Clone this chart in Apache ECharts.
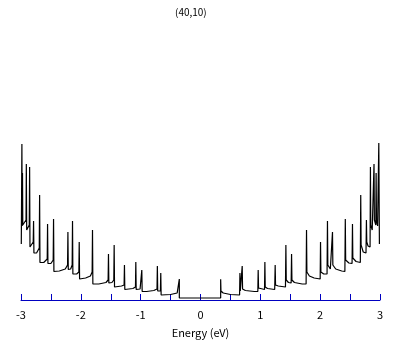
<!DOCTYPE html>
<html>
<head>
<meta charset="utf-8">
<script src="https://cdn.jsdelivr.net/npm/echarts@6/dist/echarts.min.js"></script>
<style>
  html, body { margin: 0; padding: 0; background: #fff; }
  #chart { width: 409px; height: 345px; }
</style>
</head>
<body>
<div id="chart"></div>
<script>
// DOS of the (40,10) tube: [energy (eV), dos (arb.)]
var negBranch = [
  [-2.995, 56], [-2.985, 156], [-2.98, 74], [-2.975, 127], [-2.97, 75], [-2.94, 76], [-2.916, 80],
  [-2.911, 136], [-2.905, 70], [-2.88, 70], [-2.862, 75],
  [-2.856, 133], [-2.85, 53], [-2.82, 53], [-2.796, 58],
  [-2.79, 79], [-2.784, 47], [-2.74, 47], [-2.695, 52],
  [-2.689, 105], [-2.683, 37.5], [-2.62, 37.5], [-2.562, 41],
  [-2.556, 76], [-2.55, 36.5], [-2.5, 36.5], [-2.462, 40],
  [-2.456, 81], [-2.45, 28.5], [-2.36, 29], [-2.26, 31], [-2.222, 35],
  [-2.216, 68], [-2.21, 30.5], [-2.17, 31], [-2.145, 35],
  [-2.139, 79], [-2.133, 26], [-2.07, 26], [-2.033, 28],
  [-2.027, 58], [-2.021, 21], [-1.92, 22], [-1.84, 24], [-1.811, 28],
  [-1.805, 70], [-1.799, 16], [-1.7, 16], [-1.58, 17.5], [-1.544, 20],
  [-1.538, 46], [-1.532, 17], [-1.48, 17.5], [-1.449, 20],
  [-1.443, 55], [-1.437, 13], [-1.32, 14], [-1.277, 15],
  [-1.271, 35], [-1.265, 10.5], [-1.13, 11.5], [-1.087, 13],
  [-1.081, 38], [-1.075, 10.5], [-1.01, 11], [-0.987, 12],
  [-0.981, 30], [-0.975, 8.5], [-0.9, 8.5], [-0.78, 9.5], [-0.727, 11],
  [-0.721, 34], [-0.715, 9], [-0.67, 9],
  [-0.664, 27], [-0.658, 5], [-0.5, 5.5], [-0.39, 7], [-0.36, 9],
  [-0.354, 21], [-0.354, 2]
]
var gapFloor = [[-0.354, 2], [0.337, 2]]
var posBranch = [
  [0.337, 20.7], [0.342, 9], [0.38, 7], [0.5, 5.5], [0.653, 5],
  [0.659, 27], [0.665, 9], [0.69, 9],
  [0.697, 34], [0.703, 11], [0.75, 9.5], [0.9, 8.5], [0.958, 8.5],
  [0.964, 30], [0.97, 12], [1.0, 11], [1.07, 10.5],
  [1.076, 38], [1.082, 13], [1.12, 11.5], [1.24, 10.5],
  [1.248, 35], [1.254, 15], [1.3, 14], [1.42, 13],
  [1.427, 55], [1.433, 20], [1.47, 17.5], [1.515, 17],
  [1.522, 46], [1.528, 20], [1.57, 17.5], [1.7, 16], [1.765, 16],
  [1.772, 70], [1.778, 28], [1.82, 24], [1.9, 22], [2.0, 21],
  [2.006, 58], [2.012, 28], [2.06, 26], [2.115, 26],
  [2.122, 79], [2.128, 35], [2.17, 31], [2.2, 30.5],
  [2.206, 68], [2.212, 35], [2.26, 31], [2.36, 29], [2.413, 28.5],
  [2.42, 81], [2.426, 40], [2.48, 37], [2.533, 36.5],
  [2.54, 76], [2.546, 42], [2.6, 38.5], [2.671, 37.5],
  [2.678, 105], [2.684, 55], [2.72, 48], [2.766, 47],
  [2.773, 80], [2.779, 58], [2.8, 54], [2.834, 53],
  [2.84, 133], [2.846, 75], [2.87, 70], [2.895, 70],
  [2.9, 136], [2.906, 80], [2.93, 75],
  [2.935, 127], [2.941, 80], [2.96, 74], [2.975, 75],
  [2.98, 157], [2.99, 56]
]
var xTickLabels = [-3, -2, -1, 0, 1, 2, 3]

var dosData = negBranch.concat(gapFloor.slice(1), posBranch)

var chart = echarts.init(document.getElementById('chart'))
var font = '"Noto Sans CJK JP", "DejaVu Sans", sans-serif'
var axisBlue = '#0000c0'

var option = {
  animation: false,
  backgroundColor: '#fff',
  title: {
    text: '(40,10)',
    left: 170,
    top: 2,
    textStyle: { fontSize: 10, fontWeight: 'normal', color: '#000', fontFamily: font }
  },
  grid: { left: 21, right: 29, top: 0, bottom: 45 },
  xAxis: {
    type: 'value',
    min: -3,
    max: 3,
    interval: 0.5,
    name: 'Energy (eV)',
    nameLocation: 'middle',
    nameGap: 27,
    nameTextStyle: { color: '#000', fontSize: 11, fontFamily: font },
    axisLine: { show: true, onZero: false, lineStyle: { color: axisBlue, width: 1 } },
    axisTick: { show: true, inside: true, length: 6, lineStyle: { color: axisBlue } },
    splitLine: { show: false },
    axisLabel: {
      color: '#000',
      fontSize: 11,
      fontFamily: font,
      margin: 9,
      formatter: function (v) {
        return xTickLabels.indexOf(v) !== -1 ? String(v) : ''
      }
    }
  },
  yAxis: {
    type: 'value',
    min: 0,
    max: 300,
    show: false
  },
  series: [
    {
      type: 'line',
      data: dosData,
      showSymbol: false,
      lineStyle: { color: '#000', width: 1.2 },
      itemStyle: { color: '#000' }
    }
  ]
}
chart.setOption(option)
</script>
</body>
</html>
